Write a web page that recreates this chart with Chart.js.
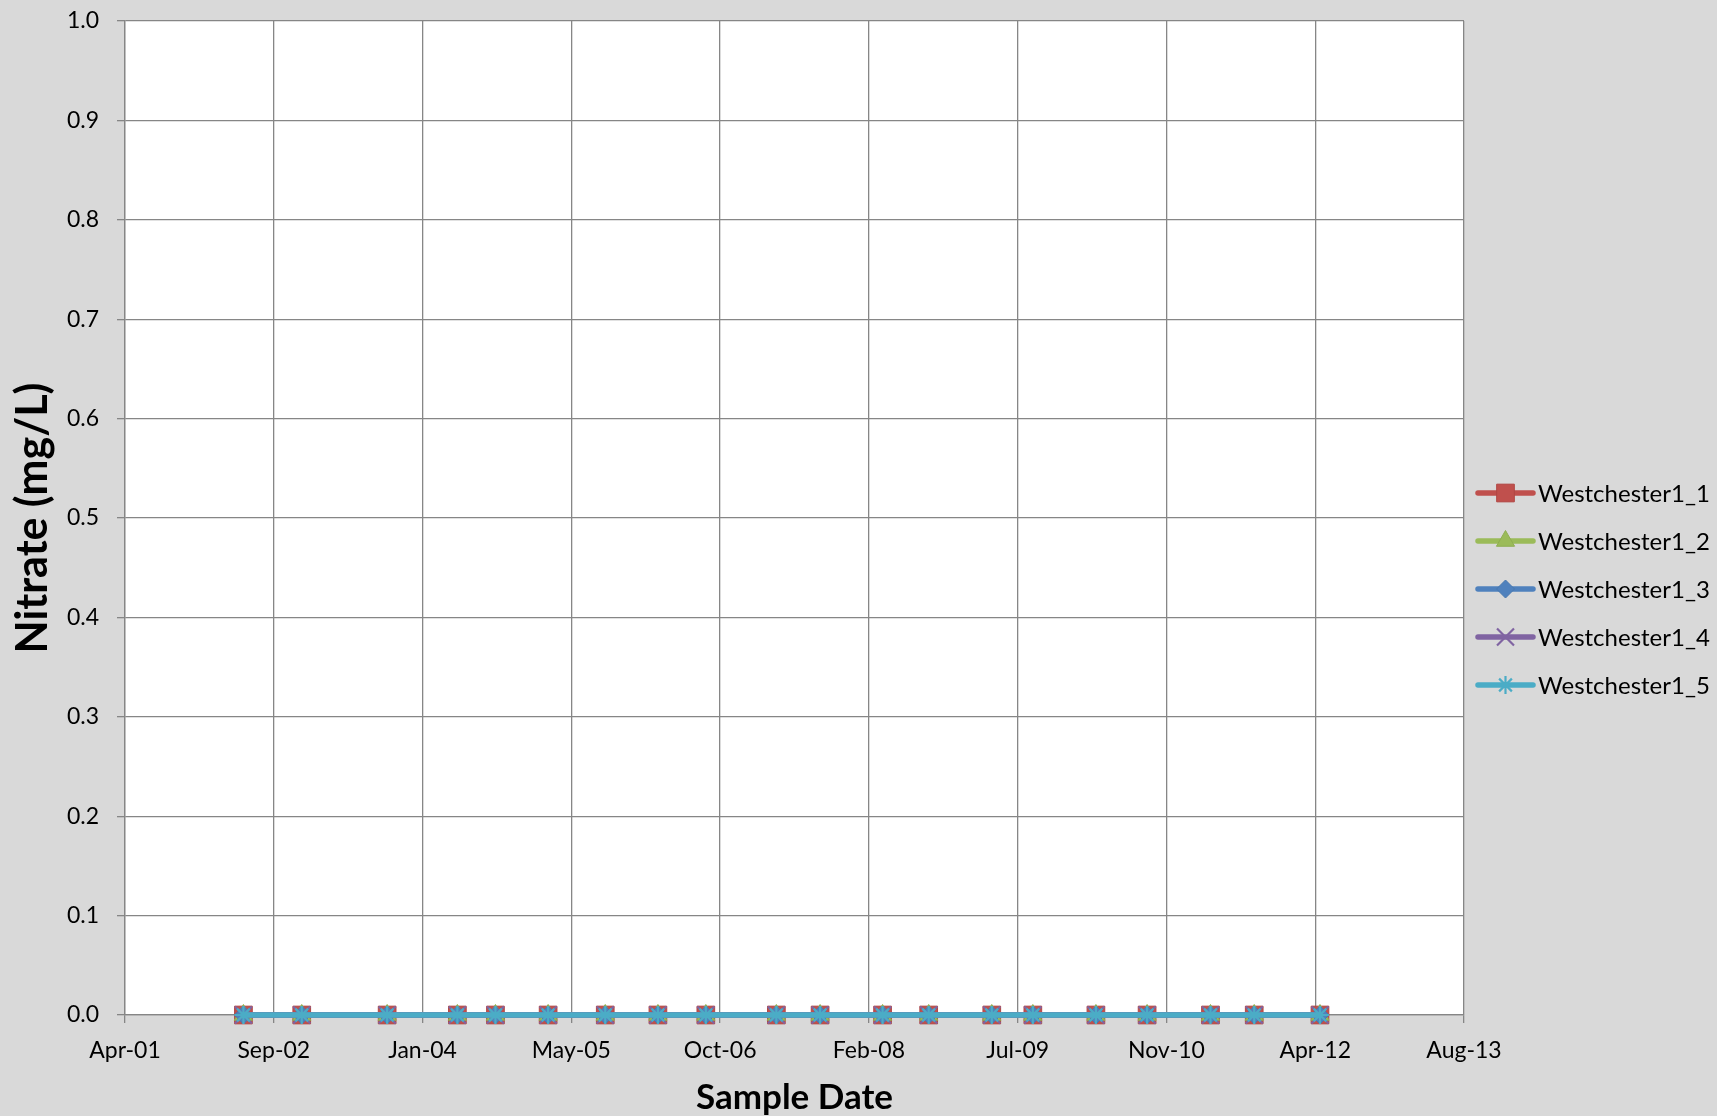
<!DOCTYPE html>
<html>
<head>
<meta charset="utf-8">
<script src="https://cdn.jsdelivr.net/npm/chart.js@4"></script>
<style>
  body { margin: 0; background: #d9d9d9; }
  #wrap { width: 1717px; height: 1116px; }
</style>
</head>
<body>
<div id="wrap"><canvas id="nitrateChart" width="1717" height="1116"></canvas></div>
<script>
// sample dates
const sampleDates = [
  "2002-05-22", "2002-12-04", "2003-09-17", "2004-05-10", "2004-09-15",
  "2005-03-11", "2005-09-19", "2006-03-15", "2006-08-23", "2007-04-17",
  "2007-09-11", "2008-04-08", "2008-09-10", "2009-04-10", "2009-08-26",
  "2010-03-26", "2010-09-14", "2011-04-15", "2011-09-09", "2012-04-17"
];

// nitrate values, all wells non-detect (0)
const westchester1_1 = [0, 0, 0, 0, 0, 0, 0, 0, 0, 0, 0, 0, 0, 0, 0, 0, 0, 0, 0, 0];
const westchester1_2 = [0, 0, 0, 0, 0, 0, 0, 0, 0, 0, 0, 0, 0, 0, 0, 0, 0, 0, 0, 0];
const westchester1_3 = [0, 0, 0, 0, 0, 0, 0, 0, 0, 0, 0, 0, 0, 0, 0, 0, 0, 0, 0, 0];
const westchester1_4 = [0, 0, 0, 0, 0, 0, 0, 0, 0, 0, 0, 0, 0, 0, 0, 0, 0, 0, 0, 0];
const westchester1_5 = [0, 0, 0, 0, 0, 0, 0, 0, 0, 0, 0, 0, 0, 0, 0, 0, 0, 0, 0, 0];

const seriesNames = ["Westchester1_1", "Westchester1_2", "Westchester1_3", "Westchester1_4", "Westchester1_5"];

// axis settings (Excel date serials)
const xMin = 37000;   // Apr-01
const xMax = 41500;   // Aug-13
const xStep = 500;
const yMin = 0;
const yMax = 1.0;
const yStep = 0.1;

const monthNames = ["Jan", "Feb", "Mar", "Apr", "May", "Jun", "Jul", "Aug", "Sep", "Oct", "Nov", "Dec"];
const excelEpoch = Date.UTC(1899, 11, 30);

function toSerial(s) {
  const p = s.split("-").map(Number);
  return (Date.UTC(p[0], p[1] - 1, p[2]) - excelEpoch) / 86400000;
}

function serialLabel(v) {
  const d = new Date(excelEpoch + v * 86400000);
  return monthNames[d.getUTCMonth()] + "-" + String(d.getUTCFullYear() % 100).padStart(2, "0");
}

const xs = sampleDates.map(toSerial);
function pts(vals) {
  return vals.map((v, i) => ({ x: xs[i], y: v }));
}

const gridColor = "#868686";
const fontFamily = "Lato, 'Open Sans', sans-serif";

// marker look per series
const styles = [
  { color: "#C0504D", edge: "#b04744", point: "rect", r: 12.5, bw: 1 },
  { color: "#9BBB59", edge: "#8fae50", point: "triangle", r: 10.5, bw: 1 },
  { color: "#4F81BD", edge: "#4877ae", point: "rectRot", r: 9, bw: 1 },
  { color: "#8064A2", edge: "#8064A2", point: "crossRot", r: 12, bw: 2.2 },
  { color: "#4BACC6", edge: "#4BACC6", point: "star", r: 9, bw: 2.2 }
];
const seriesValues = [westchester1_1, westchester1_2, westchester1_3, westchester1_4, westchester1_5];

const datasets = seriesValues.map((vals, i) => ({
  label: seriesNames[i],
  data: pts(vals),
  borderColor: styles[i].color,
  backgroundColor: styles[i].color,
  borderWidth: 5.5,
  pointStyle: styles[i].point,
  pointRadius: styles[i].r,
  pointBackgroundColor: styles[i].color,
  pointBorderColor: styles[i].edge,
  pointBorderWidth: styles[i].bw,
  tension: 0,
  clip: false,
  order: 4 - i   // later series drawn on top, like Excel
}));

// white plot area
const plotBg = {
  id: "plotBg",
  beforeDraw(chart) {
    const a = chart.chartArea;
    const ctx = chart.ctx;
    ctx.save();
    ctx.fillStyle = "#ffffff";
    ctx.fillRect(a.left, a.top, a.right - a.left, a.bottom - a.top);
    ctx.restore();
  }
};

// Excel style legend: line + marker + name
const lineLegend = {
  id: "lineLegend",
  afterDraw(chart) {
    const ctx = chart.ctx;
    const x0 = 1478, x1 = 1533, textX = 1538;
    const top = 493, gap = 48;
    ctx.save();
    chart.data.datasets.forEach((ds, i) => {
      const y = top + i * gap;
      ctx.strokeStyle = ds.borderColor;
      ctx.lineWidth = 5.5;
      ctx.lineCap = "round";
      ctx.beginPath();
      ctx.moveTo(x0, y);
      ctx.lineTo(x1, y);
      ctx.stroke();
      ctx.lineCap = "butt";
      ctx.fillStyle = ds.pointBackgroundColor;
      ctx.strokeStyle = ds.pointBorderColor;
      ctx.lineWidth = ds.pointBorderWidth;
      Chart.helpers.drawPoint(ctx, {
        pointStyle: ds.pointStyle,
        radius: ds.pointRadius,
        rotation: 0,
        borderWidth: ds.pointBorderWidth
      }, (x0 + x1) / 2, y);
      ctx.fillStyle = "#000";
      ctx.font = "24px " + fontFamily;
      ctx.textAlign = "left";
      ctx.textBaseline = "middle";
      ctx.fillText(ds.label, textX, y + 1);
    });
    ctx.restore();
  }
};

new Chart(document.getElementById("nitrateChart"), {
  type: "line",
  data: { datasets: datasets },
  plugins: [plotBg, lineLegend],
  options: {
    responsive: false,
    animation: false,
    layout: { padding: { top: 21, right: 253, left: 0, bottom: 0 } },
    plugins: {
      legend: { display: false },
      tooltip: { enabled: false }
    },
    scales: {
      x: {
        type: "linear",
        min: xMin,
        max: xMax,
        afterFit(scale) {
          scale.height = 101;
          scale.paddingLeft = 0;
          scale.paddingRight = 0;
        },
        ticks: {
          stepSize: xStep,
          autoSkip: false,
          maxRotation: 0,
          padding: 14,
          color: "#000",
          font: { family: fontFamily, size: 23 },
          callback: (v) => serialLabel(v)
        },
        grid: { color: gridColor, lineWidth: 1.3, tickLength: 8 },
        border: { color: gridColor, width: 1.3 },
        title: {
          display: true,
          text: "Sample Date",
          color: "#000",
          font: { family: fontFamily, size: 35, weight: "bold" },
          padding: { top: 0, bottom: -3 }
        }
      },
      y: {
        min: yMin,
        max: yMax,
        afterFit(scale) {
          scale.width = 125;
          scale.paddingTop = 0;
          scale.paddingBottom = 0;
        },
        ticks: {
          stepSize: yStep,
          padding: 18,
          color: "#000",
          font: { family: fontFamily, size: 23 },
          callback: (v) => v.toFixed(1)
        },
        grid: { color: gridColor, lineWidth: 1.3, tickLength: 8 },
        border: { color: gridColor, width: 1.3 },
        title: {
          display: true,
          text: "Nitrate (mg/L)",
          color: "#000",
          font: { family: fontFamily, size: 43, weight: "bold" },
          padding: { top: 7, bottom: 0 }
        }
      }
    }
  }
});
</script>
</body>
</html>
